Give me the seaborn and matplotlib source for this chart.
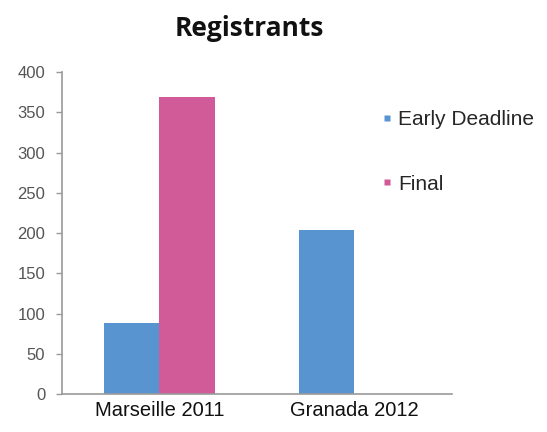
import numpy as np
import pandas as pd
import matplotlib
matplotlib.use('Agg')
import matplotlib.pyplot as plt
import seaborn as sns
from matplotlib.lines import Line2D

# Data
events = ["Marseille 2011", "Granada 2012"]
series = ["Early Deadline", "Final"]
early_deadline = [88, 204]
final = [369, np.nan]
y_ticks = [0, 50, 100, 150, 200, 250, 300, 350, 400]

colors = {"Early Deadline": "#5894CF", "Final": "#D15B98"}

df = pd.DataFrame({
    "event": events * 2,
    "series": [series[0]] * 2 + [series[1]] * 2,
    "value": early_deadline + final,
})

sns.set_style("white")
plt.rcParams['font.family'] = ['Liberation Sans', 'DejaVu Sans']

fig = plt.figure(figsize=(5.47, 4.32), dpi=100)
ax = fig.add_axes([0.113, 0.088, 0.713, 0.745])

sns.barplot(data=df, x="event", y="value", hue="series", order=events,
            hue_order=series, palette=colors, width=0.57, saturation=1,
            edgecolor="none", ax=ax, legend=False)

ax.set_xlim(-0.5, 1.5)
ax.set_ylim(0, 400)
ax.set_yticks(y_ticks)
ax.set_yticklabels([str(t) for t in y_ticks], fontsize=12, color="#555555")
ax.set_xlabel("")
ax.set_ylabel("")
ax.tick_params(axis="x", length=0, labelsize=14.5, pad=5, labelcolor="#111111")
ax.set_xticks([-0.5, 0.5, 1.5], minor=True)
ax.tick_params(axis="x", which="minor", length=4, color="#999999", width=1)
ax.tick_params(axis="y", left=True, length=4, color="#999999", width=1, pad=8)

for side in ["top", "right"]:
    ax.spines[side].set_visible(False)
for side in ["left", "bottom"]:
    ax.spines[side].set_color("#999999")
    ax.spines[side].set_linewidth(1.2)

fig.text(0.455, 0.935, "Registrants", ha="center", va="center", fontsize=19,
         fontweight="bold", family=["Open Sans", "DejaVu Sans"], color="#111111")

handles = [Line2D([0], [0], marker="s", linestyle="none", markersize=5,
                  markerfacecolor=colors[s], markeredgecolor="none") for s in series]
fig.legend(handles, series, loc="upper left", bbox_to_anchor=(0.682, 0.765),
           frameon=False, fontsize=15, handlelength=0.5, handletextpad=0.3,
           labelspacing=2.2, borderaxespad=0)

fig.savefig("out.png", dpi=100)
